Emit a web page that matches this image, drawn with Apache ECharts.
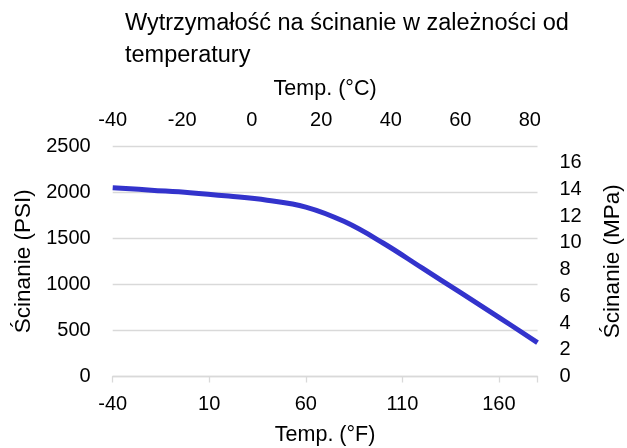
<!DOCTYPE html>
<html>
<head>
<meta charset="utf-8">
<script src="https://cdn.jsdelivr.net/npm/echarts@6/dist/echarts.min.js"></script>
<style>
html,body{margin:0;padding:0;background:#fff;}
#chart{width:627px;height:448px;}
</style>
</head>
<body>
<div id="chart"></div>
<script>
// Temperatures in °F and shear strength in PSI
var tempF = [-40, -20, 0, 20, 40, 60, 80, 100, 120, 140, 160, 180];
var shearPSI = [2048, 2021, 1994, 1957, 1912, 1838, 1680, 1448, 1180, 912, 642, 368];

var titleText = 'Wytrzymałość na ścinanie w zależności od\ntemperatury';
var xNameF = 'Temp. (°F)';
var xNameC = 'Temp. (°C)';
var yNamePSI = 'Ścinanie (PSI)';
var yNameMPa = 'Ścinanie (MPa)';

var fMin = -40, fMax = 180;
var psiMax = 2500;
var psiPerMPa = 145.038;

var FONT = "'Liberation Sans', Arial, sans-serif";
var TXT = '#000000';
var GRID = '#d9d9d9';

var chart = echarts.init(document.getElementById('chart'), null, {renderer: 'canvas'});
var seriesData = tempF.map(function (t, i) { return [t, shearPSI[i]]; });

function fToC(f) { return (f - 32) * 5 / 9; }

chart.setOption({
  animation: false,
  backgroundColor: '#fff',
  textStyle: {fontFamily: FONT},
  title: {
    text: titleText,
    left: 120,
    top: 3,
    textStyle: {fontFamily: FONT, fontSize: 23.5, fontWeight: 'normal', color: TXT, lineHeight: 32}
  },
  grid: {left: 112.7, right: 89.5, top: 146, bottom: 71.5, containLabel: false, outerBoundsMode: 'none'},
  xAxis: [
    {
      type: 'value', position: 'bottom', min: fMin, max: fMax, interval: 50,
      name: xNameF, nameLocation: 'middle', nameGap: 48,
      nameTextStyle: {fontFamily: FONT, fontSize: 21.5, color: TXT},
      axisLine: {show: true, lineStyle: {color: GRID, width: 1.3}},
      axisTick: {show: true, length: 6, lineStyle: {color: GRID, width: 1.3}},
      splitLine: {show: false},
      axisLabel: {
        fontFamily: FONT, fontSize: 20, color: TXT, margin: 18,
        formatter: function (v) { return ((v - fMin) % 50 === 0) ? String(v) : ''; }
      }
    },
    {
      type: 'value', position: 'top', min: fToC(fMin), max: fToC(fMax), interval: 20,
      name: xNameC, nameLocation: 'middle', nameGap: 46,
      nameTextStyle: {fontFamily: FONT, fontSize: 21.5, color: TXT},
      axisLine: {show: false}, axisTick: {show: false}, splitLine: {show: false},
      axisLabel: {
        fontFamily: FONT, fontSize: 20, color: TXT, margin: 16,
        formatter: function (v) { return (Math.abs(v % 20) < 1e-6) ? String(Math.round(v)) : ''; }
      }
    }
  ],
  yAxis: [
    {
      type: 'value', position: 'left', min: 0, max: psiMax, interval: 500,
      name: yNamePSI, nameLocation: 'middle', nameGap: 67, nameRotate: 90,
      nameTextStyle: {fontFamily: FONT, fontSize: 22.5, color: TXT},
      axisLine: {show: false}, axisTick: {show: false},
      splitLine: {show: true, lineStyle: {color: GRID, width: 1.3}},
      axisLabel: {
        fontFamily: FONT, fontSize: 20, color: TXT, margin: 22,
        formatter: function (v) { return String(v); }
      }
    },
    {
      type: 'value', position: 'right', min: 0, max: psiMax / psiPerMPa, interval: 2,
      name: yNameMPa, nameLocation: 'middle', nameGap: 64, nameRotate: 90,
      nameTextStyle: {fontFamily: FONT, fontSize: 22.5, color: TXT},
      axisLine: {show: false}, axisTick: {show: false}, splitLine: {show: false},
      axisLabel: {
        fontFamily: FONT, fontSize: 20, color: TXT, margin: 22,
        formatter: function (v) { return (Math.abs(v % 2) < 1e-6) ? String(Math.round(v)) : ''; }
      }
    }
  ],
  series: [
    {
      type: 'line', xAxisIndex: 0, yAxisIndex: 0,
      data: seriesData, smooth: 0.4, symbol: 'none',
      lineStyle: {color: '#3333cc', width: 5}
    }
  ]
});
</script>
</body>
</html>
